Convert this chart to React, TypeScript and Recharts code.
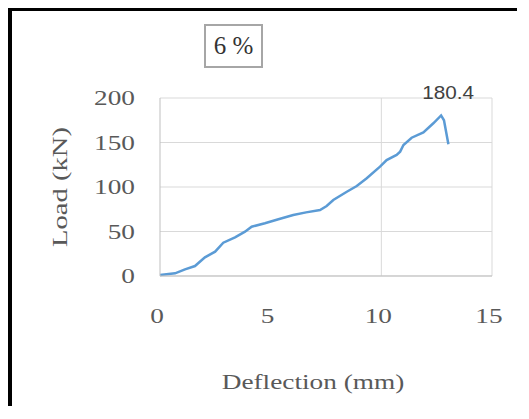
import { CartesianGrid, Label, Line, LineChart, ReferenceLine, XAxis, YAxis } from 'recharts';

// Load–deflection curve, 6 % specimen
const deflection = [
  0, 0.68, 1.13, 1.58, 2.03, 2.49, 2.86, 3.39, 3.84, 4.14, 4.74, 5.35, 6.02, 6.6, 7.23,
  7.53, 7.83, 8.44, 8.89, 9.34, 9.94, 10.24, 10.69, 10.85, 11.0, 11.37, 11.9, 12.35,
  12.7, 12.83, 13.03,
];
const load = [
  1, 3, 7.5, 11.2, 21, 27.3, 37.4, 43.5, 49.8, 55.4, 59.2, 63.7, 68.5, 71.5, 74.2,
  78.7, 85.4, 94.7, 101.1, 109.8, 122.8, 130.3, 136, 139.7, 147.2, 155.4, 161.4, 171.6,
  180.4, 175, 148,
];
const xTicks = [0, 5, 10, 15];
const yTicks = [0, 50, 100, 150, 200];
const vGridAt = [10, 15];
const title = '6 %';

const data = deflection.map((d, i) => ({ d, load: load[i] }));
const peakIndex = load.indexOf(Math.max(...load));

const serif = '"Liberation Serif", "Times New Roman", serif';
const grey = '#595959';

function YTick({ x, y, payload }: any) {
  return (
    <text
      transform={`translate(${x},${y}) scale(1.3,1)`}
      textAnchor="end"
      dy={7}
      fontSize={21}
      fontFamily={serif}
      fill={grey}
    >
      {payload.value}
    </text>
  );
}

function XTick({ x, y, payload }: any) {
  return (
    <text
      transform={`translate(${x - 3},${y + 47}) scale(1.3,1)`}
      textAnchor="middle"
      fontSize={21}
      fontFamily={serif}
      fill={grey}
    >
      {payload.value}
    </text>
  );
}

function PeakLabel(props: any) {
  if (props.index !== peakIndex) return null;
  return (
    <text
      transform={`translate(${props.x + 7},${props.y - 16}) scale(1.15,1)`}
      textAnchor="middle"
      fontSize={18}
      fontFamily='"Liberation Sans", Arial, sans-serif'
      fill="#404040"
    >
      {props.value}
    </text>
  );
}

export default function App() {
  return (
    <div
      style={{
        position: 'relative',
        borderLeft: '4px solid #000',
        borderTop: '3px solid #000',
        width: 505,
        height: 395,
        background: '#fff',
      }}
    >
      <div
        style={{
          position: 'absolute',
          left: 192,
          top: 13,
          width: 55,
          height: 40,
          border: '2px solid #a6a6a6',
          display: 'flex',
          alignItems: 'center',
          justifyContent: 'center',
          fontFamily: serif,
          fontSize: 25,
          color: '#333',
          whiteSpace: 'pre',
        }}
      >
        {title}
      </div>
      <LineChart width={505} height={395} data={data} margin={{ top: 87, right: 25, left: 0, bottom: 0 }}>
        <CartesianGrid vertical={false} stroke="#d9d9d9" />
        {vGridAt.map((v) => (
          <ReferenceLine key={v} x={v} stroke="#d9d9d9" />
        ))}
        <XAxis
          dataKey="d"
          type="number"
          domain={[0, 15]}
          ticks={xTicks}
          height={130}
          tickSize={0}
          tickMargin={0}
          tickLine={false}
          stroke="#bfbfbf"
          tick={<XTick />}
        >
          <Label
            content={(p: any) => (
              <text
                transform={`translate(${p.viewBox.x + 153},${p.viewBox.y + 113}) scale(1.3,1)`}
                textAnchor="middle"
                fontSize={21}
                fontFamily={serif}
                fill={grey}
              >
                Deflection (mm)
              </text>
            )}
          />
        </XAxis>
        <YAxis
          type="number"
          domain={[0, 200]}
          ticks={yTicks}
          width={148}
          tickSize={0}
          tickMargin={25}
          tickLine={false}
          stroke="#bfbfbf"
          tick={<YTick />}
        >
          <Label
            content={(p: any) => (
              <text
                transform={`translate(${p.viewBox.x + 55},${p.viewBox.y + p.viewBox.height / 2}) rotate(-90) scale(1.3,1)`}
                textAnchor="middle"
                fontSize={22}
                fontFamily={serif}
                fill={grey}
              >
                Load (kN)
              </text>
            )}
          />
        </YAxis>
        <Line
          dataKey="load"
          stroke="#5b9bd5"
          strokeWidth={2.5}
          dot={false}
          isAnimationActive={false}
          label={<PeakLabel />}
        />
      </LineChart>
    </div>
  );
}
